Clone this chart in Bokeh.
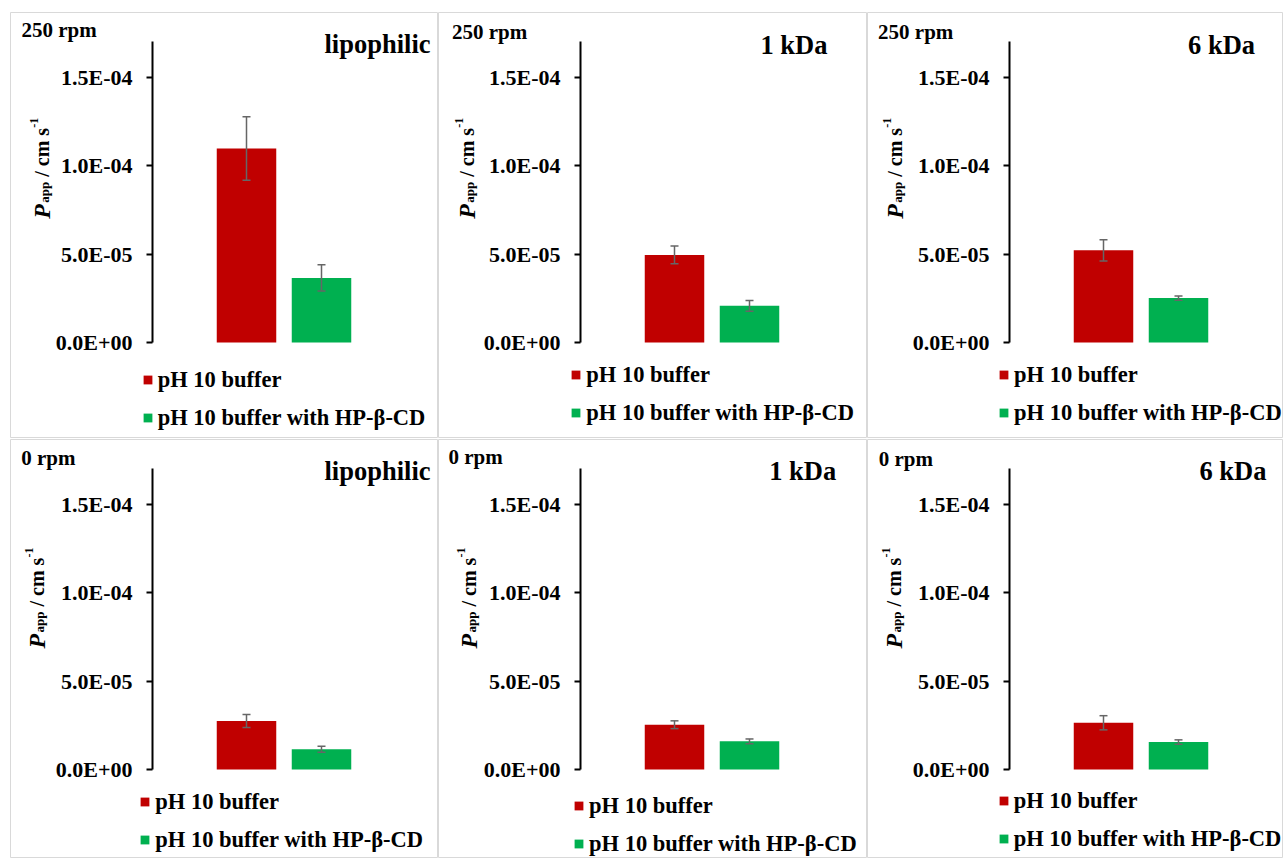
import math
from bokeh.plotting import figure
from bokeh.models import (Range1d, LinearAxis, FixedTicker, CustomJSTickFormatter,
                          ColumnDataSource, Whisker, TeeHead, Legend, LegendItem, Label)
from bokeh.layouts import column, row
from bokeh.embed import file_html
from bokeh.resources import INLINE

# ---------------- data ----------------
SERIES = ["pH 10 buffer", "pH 10 buffer with HP-\u03b2-CD"]
COLORS = ["#C00000", "#00B050"]
RPM = ["250 rpm", "250 rpm", "250 rpm", "0 rpm", "0 rpm", "0 rpm"]
MOLECULE = ["lipophilic", "1 kDa", "6 kDa", "lipophilic", "1 kDa", "6 kDa"]
BUFFER_MEAN = [1.096e-4, 4.95e-5, 5.21e-5, 2.74e-5, 2.53e-5, 2.64e-5]
BUFFER_SD = [1.80e-5, 5.0e-6, 6.0e-6, 3.7e-6, 2.2e-6, 4.0e-6]
CD_MEAN = [3.65e-5, 2.07e-5, 2.51e-5, 1.15e-5, 1.59e-5, 1.55e-5]
CD_SD = [7.4e-6, 3.0e-6, 1.2e-6, 1.7e-6, 1.35e-6, 1.25e-6]
TICKS = [0.0, 5e-5, 1e-4, 1.5e-4]
TICK_LABELS = ["0.0E+00", "5.0E-05", "1.0E-04", "1.5E-04"]
Y_AXIS_MAX = 1.7e-4

# ---------------- layout (pixels) ----------------
COL_W = [438, 429, 416]
COL_LEFT = [10, 0, 0]
COL_RIGHT = [1, 1, 0]
ROW_H = [439, 419]
ROW_TOP = [12, 0]
ROW_BOTTOM = [2, 0]

X0_PX = 236.0        # centre of first series bar, from frame left
DX_PX = 75.0         # pixels between series
BAR_W_PX = 59.5
ZERO_PX = 330.0      # y pixel of value 0 from frame top
PX_PER_5E5 = 88.5
AXIS_PX = 142.0

RPM_POS = [(11, 17.3), (13.4, 19), (10.6, 19), (10.7, 18.2), (10, 17.5), (11.3, 19.8)]
TITLE_POS = [(420, 31), (389, 32.5), (387.6, 32.5), (420, 31.5), (397.7, 31.5), (399, 31.5)]
LEG_POS = [(131.7, 367.7), (132.3, 362.7), (131, 362.5), (129.3, 362.5), (135, 366.5), (130.7, 361.5)]
YLAB_R = [36.7, 33.4, 32.6, 31.7, 35, 31.3]
YLAB_START = [206.3, 206.3, 206.3, 209, 209, 209]

FONT = "Liberation Serif"
LEG_ROW_H = 26
LEG_SPACING = 12


def make_panel(k, fw_idx, row_idx):
    W = COL_W[fw_idx]
    H = ROW_H[row_idx]
    FW = W - COL_LEFT[fw_idx] - COL_RIGHT[fw_idx]
    FH = H - ROW_TOP[row_idx] - ROW_BOTTOM[row_idx]
    ppu = PX_PER_5E5 / 5e-5

    def px2x(px):
        return (px - X0_PX) / DX_PX

    def px2y(py):
        return (ZERO_PX - py) / ppu

    p = figure(width=W, height=H, title=None,
               x_range=Range1d(px2x(0), px2x(FW)),
               y_range=Range1d(px2y(FH), px2y(0)),
               x_axis_type=None, y_axis_type=None,
               toolbar_location=None, output_backend="svg",
               min_border_left=COL_LEFT[fw_idx], min_border_right=COL_RIGHT[fw_idx],
               min_border_top=ROW_TOP[row_idx], min_border_bottom=ROW_BOTTOM[row_idx])
    p.outline_line_color = "#d9d9d9"
    p.outline_line_width = 1
    p.background_fill_color = "white"
    p.border_fill_color = "white"

    means = [BUFFER_MEAN[k], CD_MEAN[k]]
    sds = [BUFFER_SD[k], CD_SD[k]]

    renderers = []
    for i in range(2):
        src = ColumnDataSource(dict(x=[i], top=[means[i]]))
        r = p.vbar(x="x", top="top", bottom=0, width=BAR_W_PX / DX_PX,
                   source=src, fill_color=COLORS[i], line_color=None)
        renderers.append(r)

    esrc = ColumnDataSource(dict(base=[0, 1],
                                 upper=[m + s for m, s in zip(means, sds)],
                                 lower=[m - s for m, s in zip(means, sds)]))
    wk = Whisker(base="base", upper="upper", lower="lower", source=esrc, level="overlay",
                 line_color="#666666", line_width=1.5,
                 upper_head=TeeHead(size=8, line_color="#666666", line_width=1.5),
                 lower_head=TeeHead(size=8, line_color="#666666", line_width=1.5))
    p.add_layout(wk)

    ax = LinearAxis(fixed_location=px2x(AXIS_PX), bounds=(0, Y_AXIS_MAX),
                    ticker=FixedTicker(ticks=TICKS, minor_ticks=[]))
    ax.formatter = CustomJSTickFormatter(args=dict(tvals=TICKS, tlabs=TICK_LABELS), code="""
        let best = 0;
        for (let i = 1; i < tvals.length; i++) {
            if (Math.abs(tvals[i] - tick) < Math.abs(tvals[best] - tick)) best = i;
        }
        return tlabs[best];
    """)
    ax.axis_line_color = "black"
    ax.axis_line_width = 2
    ax.major_tick_line_color = "black"
    ax.major_tick_line_width = 2
    ax.major_tick_out = 6
    ax.major_tick_in = 0
    ax.minor_tick_line_color = None
    ax.major_label_standoff = 14
    ax.major_label_text_font = FONT
    ax.major_label_text_font_style = "bold"
    ax.major_label_text_font_size = "22px"
    ax.major_label_text_color = "black"
    p.add_layout(ax, "left")

    # corner labels
    rx, ry = RPM_POS[k]
    p.add_layout(Label(x=px2x(rx), y=px2y(ry), text=RPM[k], text_font=FONT,
                       text_font_style="bold", text_font_size="21px", text_color="black",
                       text_align="left", text_baseline="alphabetic"))
    tx, ty = TITLE_POS[k]
    p.add_layout(Label(x=px2x(tx), y=px2y(ty), text=MOLECULE[k], text_font=FONT,
                       text_font_style="bold", text_font_size="26.5px", text_color="black",
                       text_align="right", text_baseline="alphabetic"))

    # y-axis title pieces (rotated): P_app / cm s^-1
    xb = YLAB_R[k] - 5
    s0 = YLAB_START[k]
    pieces = [
        ("P", "bold italic", "24px", xb, s0),
        ("app", "bold", "13px", xb + 2.5, s0 - 16),
        ("/ cm s", "bold", "20px", xb, s0 - 42),
        ("-1", "bold", "12px", xb - 8, s0 - 91),
    ]
    for txt, style, size, bx, by in pieces:
        p.add_layout(Label(x=px2x(bx), y=px2y(by), text=txt, angle=math.pi / 2,
                           text_font=FONT, text_font_style=style, text_font_size=size,
                           text_color="black", text_align="left", text_baseline="alphabetic"))

    # legend
    lx, lcy = LEG_POS[k]
    leg_top = lcy - LEG_ROW_H / 2
    leg_h = 2 * LEG_ROW_H + LEG_SPACING
    legend = Legend(items=[LegendItem(label=SERIES[i], renderers=[renderers[i]]) for i in range(2)],
                    location=(lx, FH - (leg_top + leg_h)),
                    label_text_font=FONT, label_text_font_style="bold",
                    label_text_font_size="22.5px", label_text_color="black",
                    glyph_width=11, glyph_height=11, label_standoff=5,
                    label_height=LEG_ROW_H, spacing=LEG_SPACING, padding=0, margin=0,
                    border_line_color=None, background_fill_alpha=0)
    p.add_layout(legend)
    return p


rows = []
k = 0
for r in range(2):
    figs = []
    for c in range(3):
        figs.append(make_panel(k, c, r))
        k += 1
    rows.append(row(*figs, spacing=0))
layout = column(*rows, spacing=0)

open("out.html", "w").write(file_html(layout, INLINE))
